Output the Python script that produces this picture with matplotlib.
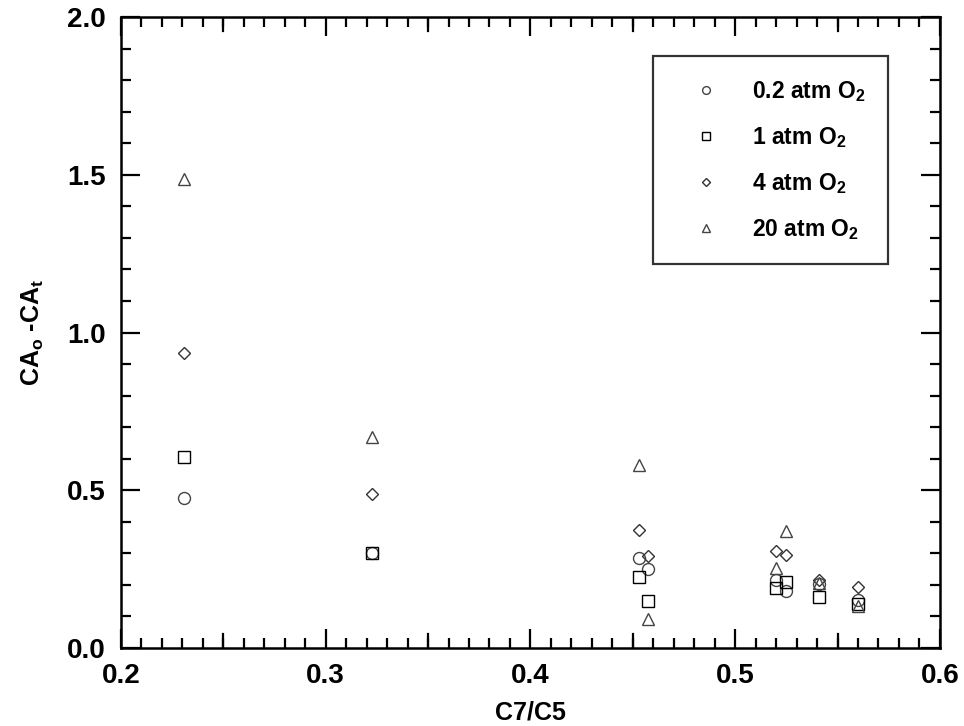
import matplotlib
matplotlib.use("Agg")
import matplotlib.pyplot as plt
from matplotlib.ticker import MultipleLocator

plt.rcParams['font.family'] = ['Liberation Sans', 'DejaVu Sans']
plt.rcParams['font.weight'] = 'bold'
plt.rcParams['mathtext.default'] = 'regular'

# C7/C5 ratio and CAo-CAt for each O2 pressure
x_02 = [0.231, 0.3225, 0.4532, 0.4574, 0.520, 0.525, 0.541, 0.560]
y_02 = [0.477, 0.300, 0.285, 0.250, 0.215, 0.181, 0.203, 0.153]

x_1 = [0.231, 0.3225, 0.4532, 0.4574, 0.520, 0.525, 0.541, 0.560]
y_1 = [0.607, 0.300, 0.224, 0.150, 0.190, 0.210, 0.162, 0.139]

x_4 = [0.231, 0.3225, 0.4532, 0.4574, 0.520, 0.525, 0.541, 0.560]
y_4 = [0.934, 0.487, 0.374, 0.292, 0.308, 0.294, 0.216, 0.194]

x_20 = [0.231, 0.3225, 0.4532, 0.4574, 0.520, 0.525, 0.541, 0.560]
y_20 = [1.488, 0.669, 0.579, 0.092, 0.253, 0.371, 0.206, 0.134]

labels = ['0.2 atm O$_2$', '1 atm O$_2$', '4 atm O$_2$', '20 atm O$_2$']

fig = plt.figure(figsize=(9.64, 7.26), dpi=100)
ax = fig.add_axes([0.1255, 0.1074, 0.8495, 0.8692])

ax.plot(x_02, y_02, 'o', ms=8.6, mfc='none', mec='#444444', mew=1.0, label=labels[0])
ax.plot(x_1, y_1, 's', ms=8.4, mfc='none', mec='black', mew=1.0, label=labels[1])
ax.plot(x_4, y_4, 'D', ms=6.2, mfc='none', mec='#333333', mew=1.0, label=labels[2])
ax.plot(x_20, y_20, '^', ms=8.6, mfc='none', mec='#444444', mew=1.0, label=labels[3])

ax.set_xlim(0.2, 0.6)
ax.set_ylim(0.0, 2.0)
ax.xaxis.set_major_locator(MultipleLocator(0.1))
ax.xaxis.set_minor_locator(MultipleLocator(0.01))
ax.yaxis.set_major_locator(MultipleLocator(0.5))
ax.yaxis.set_minor_locator(MultipleLocator(0.1))
ax.xaxis.set_major_formatter(plt.FormatStrFormatter('%.1f'))
ax.yaxis.set_major_formatter(plt.FormatStrFormatter('%.1f'))

# long ticks every 0.05 on x
for xv in [0.25, 0.35, 0.45, 0.55]:
    ax.axvline(xv, 0, 14 / 631, color='black', lw=1.6)
    ax.axvline(xv, 1 - 14 / 631, 1, color='black', lw=1.6)

ax.tick_params(which='both', direction='in', top=True, right=True, width=1.6)
ax.tick_params(which='major', length=14, labelsize=20, pad=11)
ax.tick_params(which='minor', length=7)
for s in ax.spines.values():
    s.set_linewidth(1.8)

ax.set_xlabel('C7/C5', fontsize=18, fontweight='bold', labelpad=8)
ax.set_ylabel('CA$_o$ -CA$_t$', fontsize=18, fontweight='bold', labelpad=15)

leg = ax.legend(loc='upper right', bbox_to_anchor=(0.9365, 0.9385), fontsize=16.5,
                frameon=True, fancybox=False, edgecolor='black', markerscale=0.65,
                labelspacing=0.92, handletextpad=0.7, borderpad=1.0, handlelength=2.6,
                borderaxespad=0)
leg.get_frame().set_linewidth(1.6)
for t in leg.get_texts():
    t.set_fontweight('bold')

fig.savefig('out.png', dpi=100)
